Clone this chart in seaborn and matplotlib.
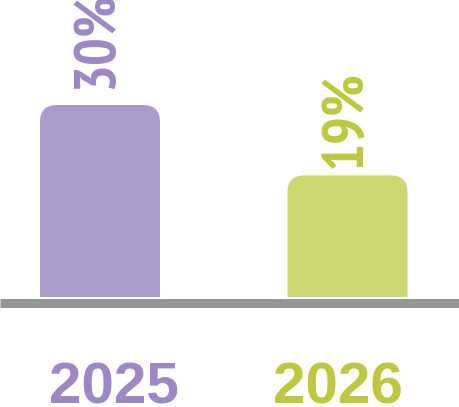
import matplotlib
matplotlib.use("Agg")
import matplotlib.pyplot as plt
import seaborn as sns
import pandas as pd
from matplotlib.patches import FancyBboxPatch
from matplotlib import font_manager
from matplotlib.font_manager import FontProperties
import os

years = ["2025", "2026"]
values = [30, 19]
value_labels = ["30%", "19%"]
bar_colors = ["#ab9bcb", "#cdd771"]
text_colors = ["#9d88c3", "#bdc83f"]

df = pd.DataFrame({"year": years, "value": values})

# find a condensed bold font if one is installed
cands = []
for f in font_manager.fontManager.ttflist:
    base = os.path.basename(f.fname).lower()
    if ("narrow" in base or "condensed" in base) and "bold" in base and "italic" not in base and "oblique" not in base:
        cands.append(f.fname)
def rank(fn):
    b = os.path.basename(fn).lower()
    if "narrow" in b: return 0
    if "roboto" in b: return 1
    if "opensans" in b or "open" in b: return 2
    return 3
cands.sort(key=rank)
PCT_SIZE = 42
if cands:
    pct_font = FontProperties(fname=cands[0], size=PCT_SIZE)
else:
    pct_font = FontProperties(family=["Roboto", "DejaVu Sans"], weight="bold", size=PCT_SIZE)

sns.set_style("white")
plt.rcParams["font.family"] = ["Liberation Sans", "DejaVu Sans"]

W, H, DPI = 459, 407, 100
fig = plt.figure(figsize=(W / DPI, H / DPI), dpi=DPI)
base_px = 297
ax = fig.add_axes([0, (H - base_px) / H, 1, base_px / H])

px_per_cat = 247.5
px_per_unit = 6.4
sns.barplot(data=df, x="year", y="value", hue="year", palette=bar_colors,
            width=120 / px_per_cat, ax=ax, legend=False, saturation=1)

ax.set_xlim(-100 / px_per_cat, (W - 100) / px_per_cat)
ax.set_ylim(0, base_px / px_per_unit)

r_px = 17
rx = r_px / px_per_cat
ry = r_px / px_per_unit
for p in list(ax.patches):
    x, w, h = p.get_x(), p.get_width(), p.get_height()
    fc = p.get_facecolor()
    p.remove()
    fb = FancyBboxPatch((x, -ry), w, h + ry,
                        boxstyle=f"round,pad=0,rounding_size={rx}",
                        mutation_aspect=ry / rx, facecolor=fc, edgecolor="none")
    ax.add_patch(fb)

ax.axhline(-5.5 / px_per_unit, color="#939598", lw=9 * 0.72, clip_on=False,
           solid_capstyle="butt")

label_pads = [16, 7]
label_dx_px = [-2, -1]
for i, (v, lab, c, pad, dx) in enumerate(zip(values, value_labels, text_colors, label_pads, label_dx_px)):
    ax.text(i + dx / px_per_cat, v + pad / px_per_unit, lab, rotation=90,
            ha="center", va="bottom", color=c, fontproperties=pct_font)

# year labels below the baseline
year_dx_px = [13.5, -9.5]
for i, (yr, c, dx) in enumerate(zip(years, text_colors, year_dx_px)):
    ax.text(i + dx / px_per_cat, -(404 - base_px) / base_px, yr,
            transform=ax.get_xaxis_transform(), ha="center", va="baseline",
            color=c, fontsize=42, fontweight="bold", clip_on=False)

ax.set_xticks([])
ax.set_yticks([])
ax.set_xlabel("")
ax.set_ylabel("")
for s in ax.spines.values():
    s.set_visible(False)

fig.savefig("out.png", dpi=DPI)
